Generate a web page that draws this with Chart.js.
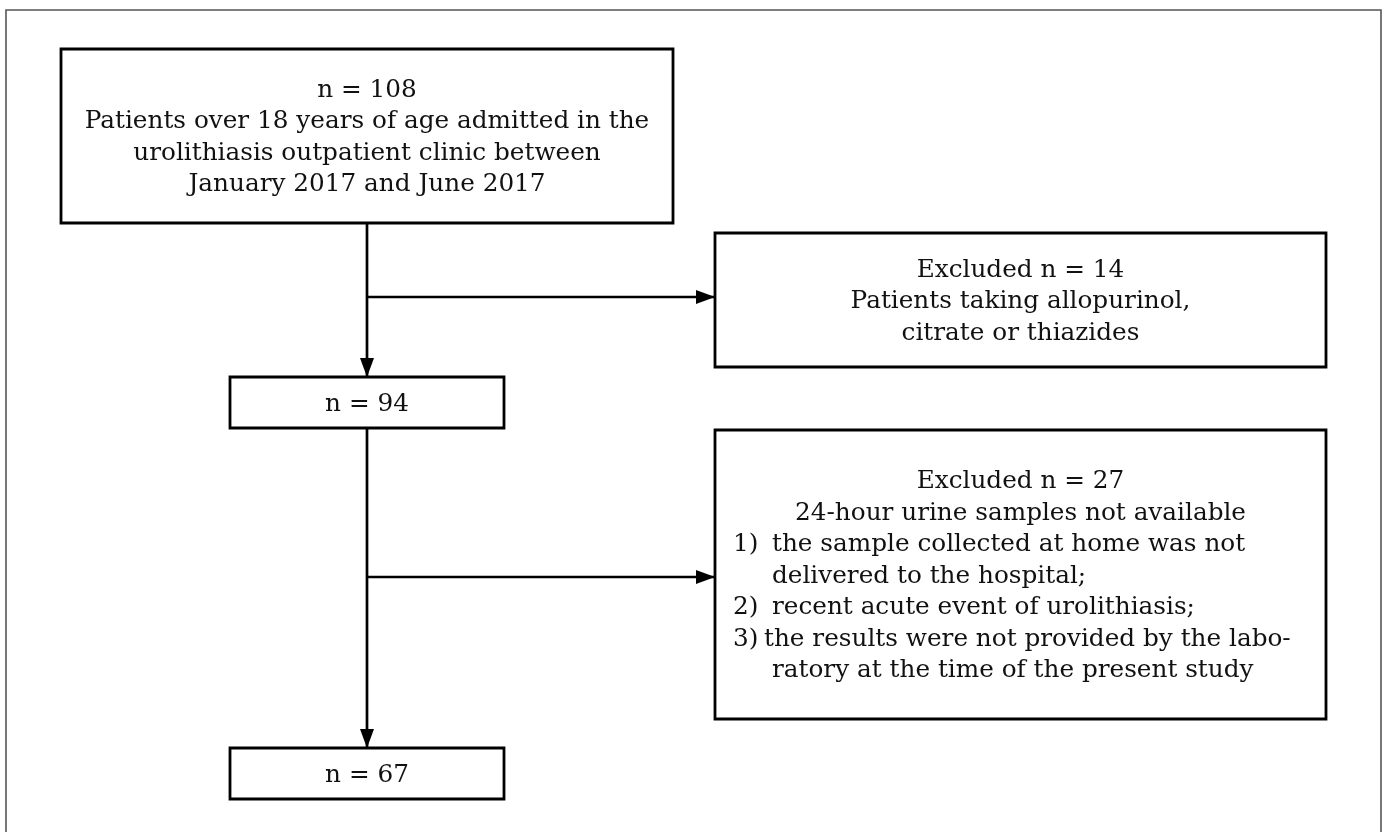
<!DOCTYPE html>
<html>
<head>
<meta charset="utf-8">
<title>Study flow chart</title>
<script src="https://cdn.jsdelivr.net/npm/chart.js@4.4.1/dist/chart.umd.min.js"></script>
<style>
  html, body { margin: 0; padding: 0; background: #fff; }
  #wrap { width: 1382px; height: 832px; }
</style>
</head>
<body>
<div id="wrap"><canvas id="flowChart" width="1382" height="832"></canvas></div>
<script>
// Patient counts at each step
const stageCounts = [108, 94, 67];
const excludedCounts = [14, 27];

// Texts
const firstStageText = [
    'Patients over 18 years of age admitted in the',
    'urolithiasis outpatient clinic between',
    'January 2017 and June 2017'
];
const firstExclusionText = ['Patients taking allopurinol,', 'citrate or thiazides'];
const secondExclusionText = ['24-hour urine samples not available'];
const secondExclusionReasons = [
    ['the sample collected at home was not', 'delivered to the hospital;'],
    ['recent acute event of urolithiasis;'],
    ['the results were not provided by the labo-', 'ratory at the time of the present study']
];

// Layout (chart units = pixels)
const boxes = {
    start:     { x0: 61,  y0: 49,  x1: 673,  y1: 223 },
    mid:       { x0: 230, y0: 377, x1: 504,  y1: 428 },
    excl1:     { x0: 715, y0: 233, x1: 1326, y1: 367 },
    excl2:     { x0: 715, y0: 430, x1: 1326, y1: 719 },
    final:     { x0: 230, y0: 748, x1: 504,  y1: 799 }
};
const spineX = 367;
const arrows = [
    { from: [spineX, 223], to: [spineX, 377] },
    { from: [spineX, 297], to: [715, 297] },
    { from: [spineX, 428], to: [spineX, 748] },
    { from: [spineX, 577], to: [715, 577] }
];
const frame = { x0: 6, y0: 10, x1: 1381, y1: 845 };

const LINE_H = 31.5;
const FONT = '24px "DejaVu Serif", "Liberation Serif", serif';
const TEXT_STRETCH = 1.03;
const TEXT_NUDGE = 2;
const listNumX = 733;
const listTextX = 772;
const listFirstLineX = [772, 772, 764];

// Box contents
const boxTexts = {
    start: ['n = ' + stageCounts[0], ...firstStageText],
    mid: ['n = ' + stageCounts[1]],
    excl1: ['Excluded n = ' + excludedCounts[0], ...firstExclusionText],
    final: ['n = ' + stageCounts[2]]
};

function rectPoints(b) {
    return [
        { x: b.x0, y: b.y0 }, { x: b.x1, y: b.y0 }, { x: b.x1, y: b.y1 },
        { x: b.x0, y: b.y1 }, { x: b.x0, y: b.y0 }, { x: b.x1, y: b.y0 }
    ];
}

const datasets = [];
datasets.push({
    data: rectPoints(frame), borderColor: '#555', borderWidth: 1.6
});
Object.values(boxes).forEach(b => {
    datasets.push({ data: rectPoints(b), borderColor: '#000', borderWidth: 2.8 });
});
arrows.forEach(a => {
    datasets.push({
        data: [{ x: a.from[0], y: a.from[1] }, { x: a.to[0], y: a.to[1] }],
        borderColor: '#000', borderWidth: 2.7, isArrow: true
    });
});
datasets.forEach(d => {
    d.showLine = true;
    d.pointRadius = 0;
    d.tension = 0;
    d.fill = false;
    d.clip = false;
    d.borderJoinStyle = 'miter';
});

function drawText(ctx, str, px, py, align) {
    ctx.save();
    ctx.translate(px, py + TEXT_NUDGE);
    ctx.scale(TEXT_STRETCH, 1);
    ctx.textAlign = align;
    ctx.textBaseline = 'middle';
    ctx.fillText(str, 0, 0);
    ctx.restore();
}

// Arrow heads and box texts
const flowPlugin = {
    id: 'flowText',
    afterDatasetsDraw(chart) {
        const { ctx, scales: { x, y } } = chart;
        ctx.save();
        ctx.fillStyle = '#000';
        chart.data.datasets.forEach(ds => {
            if (!ds.isArrow) return;
            const p0 = ds.data[0], p1 = ds.data[1];
            const tx = x.getPixelForValue(p1.x), ty = y.getPixelForValue(p1.y);
            const fx = x.getPixelForValue(p0.x), fy = y.getPixelForValue(p0.y);
            const ang = Math.atan2(ty - fy, tx - fx);
            ctx.save();
            ctx.translate(tx, ty);
            ctx.rotate(ang);
            ctx.beginPath();
            ctx.moveTo(0, 0);
            ctx.lineTo(-19, -7);
            ctx.lineTo(-19, 7);
            ctx.closePath();
            ctx.fill();
            ctx.restore();
        });

        ctx.fillStyle = '#111';
        ctx.font = FONT;
        Object.keys(boxTexts).forEach(key => {
            const b = boxes[key], lines = boxTexts[key];
            const cx = x.getPixelForValue((b.x0 + b.x1) / 2);
            const cy = y.getPixelForValue((b.y0 + b.y1) / 2);
            lines.forEach((t, i) => {
                drawText(ctx, t, cx, cy + (i - (lines.length - 1) / 2) * LINE_H, 'center');
            });
        });

        // second exclusion box: centred head + numbered list
        const b = boxes.excl2;
        const head = ['Excluded n = ' + excludedCounts[1], ...secondExclusionText];
        let total = head.length;
        secondExclusionReasons.forEach(r => total += r.length);
        const cx = x.getPixelForValue((b.x0 + b.x1) / 2);
        const cy = y.getPixelForValue((b.y0 + b.y1) / 2);
        let row = 0;
        const rowY = r => cy + (r - (total - 1) / 2) * LINE_H;
        head.forEach(t => { drawText(ctx, t, cx, rowY(row), 'center'); row++; });
        secondExclusionReasons.forEach((item, i) => {
            drawText(ctx, (i + 1) + ')', x.getPixelForValue(listNumX), rowY(row), 'left');
            item.forEach((t, j) => {
                const tx = j === 0 ? listFirstLineX[i] : listTextX;
                drawText(ctx, t, x.getPixelForValue(tx), rowY(row), 'left');
                row++;
            });
        });
        ctx.restore();
    }
};

new Chart(document.getElementById('flowChart'), {
    type: 'scatter',
    data: { datasets },
    options: {
        responsive: false,
        animation: false,
        events: [],
        layout: { padding: 0 },
        scales: {
            x: { type: 'linear', min: 0, max: 1382, display: false },
            y: { type: 'linear', min: 0, max: 832, reverse: true, display: false }
        },
        plugins: { legend: { display: false }, tooltip: { enabled: false } }
    },
    plugins: [flowPlugin]
});
</script>
</body>
</html>
